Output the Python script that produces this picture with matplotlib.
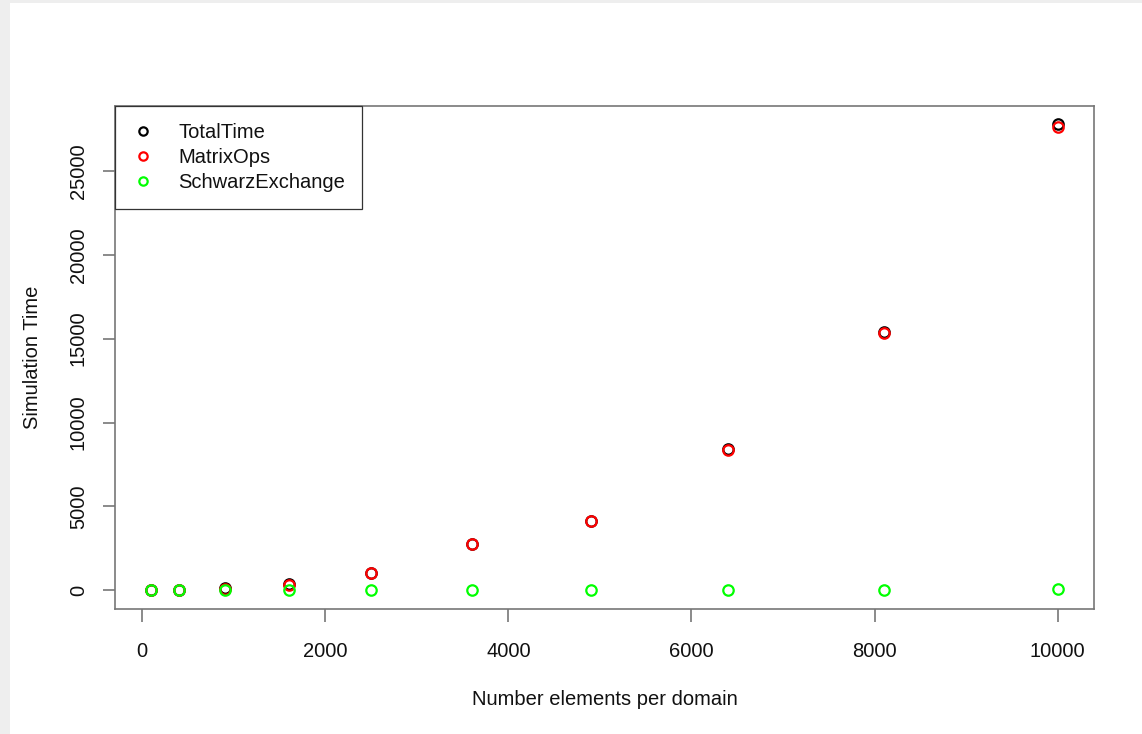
import numpy as np
import matplotlib.pyplot as plt
from matplotlib.patches import Rectangle

plt.rcParams['font.family'] = ['Liberation Sans', 'DejaVu Sans']

# elements per domain (square meshes)
elements = [100, 400, 900, 1600, 2500, 3600, 4900, 6400, 8100, 10000]
total_time = [5, 25, 120, 350, 1060, 2760, 4130, 8420, 15420, 27760]
matrix_ops = [3, 20, 105, 330, 1040, 2740, 4110, 8390, 15360, 27620]
schwarz_exchange = [2, 5, 8, 10, 12, 15, 18, 22, 40, 80]

fs = 14.5

fig = plt.figure(figsize=(11.42, 7.34), dpi=100, facecolor='#eeeeee')
# white page inside the light grey border
fig.patches.append(Rectangle((10 / 1142, 0), 1, 1 - 3 / 734, transform=fig.transFigure,
                             facecolor='white', edgecolor='none', zorder=-10))

ax = fig.add_axes([115 / 1142, 125 / 734, 979 / 1142, 503 / 734])

style = dict(linestyle='none', marker='o', markersize=7.5, markerfacecolor='none',
             markeredgewidth=1.6)
ax.plot(elements, total_time, color='black', label='TotalTime', **style)
ax.plot(elements, matrix_ops, color='red', label='MatrixOps', **style)
ax.plot(elements, schwarz_exchange, color='#00ff00', label='SchwarzExchange', **style)

ax.set_xlim(-296, 10396)
ax.set_ylim(-1110, 28860)
ax.set_xticks([0, 2000, 4000, 6000, 8000, 10000])
ax.set_yticks([0, 5000, 10000, 15000, 20000, 25000])
ax.set_yticklabels(['0', '5000', '10000', '15000', '20000', '25000'],
                   rotation=90, va='center')

for s in ax.spines.values():
    s.set_color('#777777')
    s.set_linewidth(1.2)
ax.tick_params(direction='out', length=9, width=1.2, color='#777777',
               labelsize=fs, labelcolor='#111111')
ax.tick_params(axis='x', pad=15)
ax.tick_params(axis='y', pad=10.5)

ax.set_xlabel('Number elements per domain', fontsize=fs, labelpad=20.5, color='#111111')
ax.set_ylabel('Simulation Time', fontsize=fs, labelpad=19.5, color='#111111')

leg = ax.legend(loc='upper left', borderaxespad=0, fancybox=False, framealpha=1,
                edgecolor='#333333', fontsize=fs, handlelength=1.1,
                handletextpad=1.2, borderpad=0.85, labelspacing=0.3,
                markerscale=0.8)
leg.get_frame().set_linewidth(0.9)
for t in leg.get_texts():
    t.set_color('#111111')

fig.savefig('out.png', dpi=100, facecolor=fig.get_facecolor())
